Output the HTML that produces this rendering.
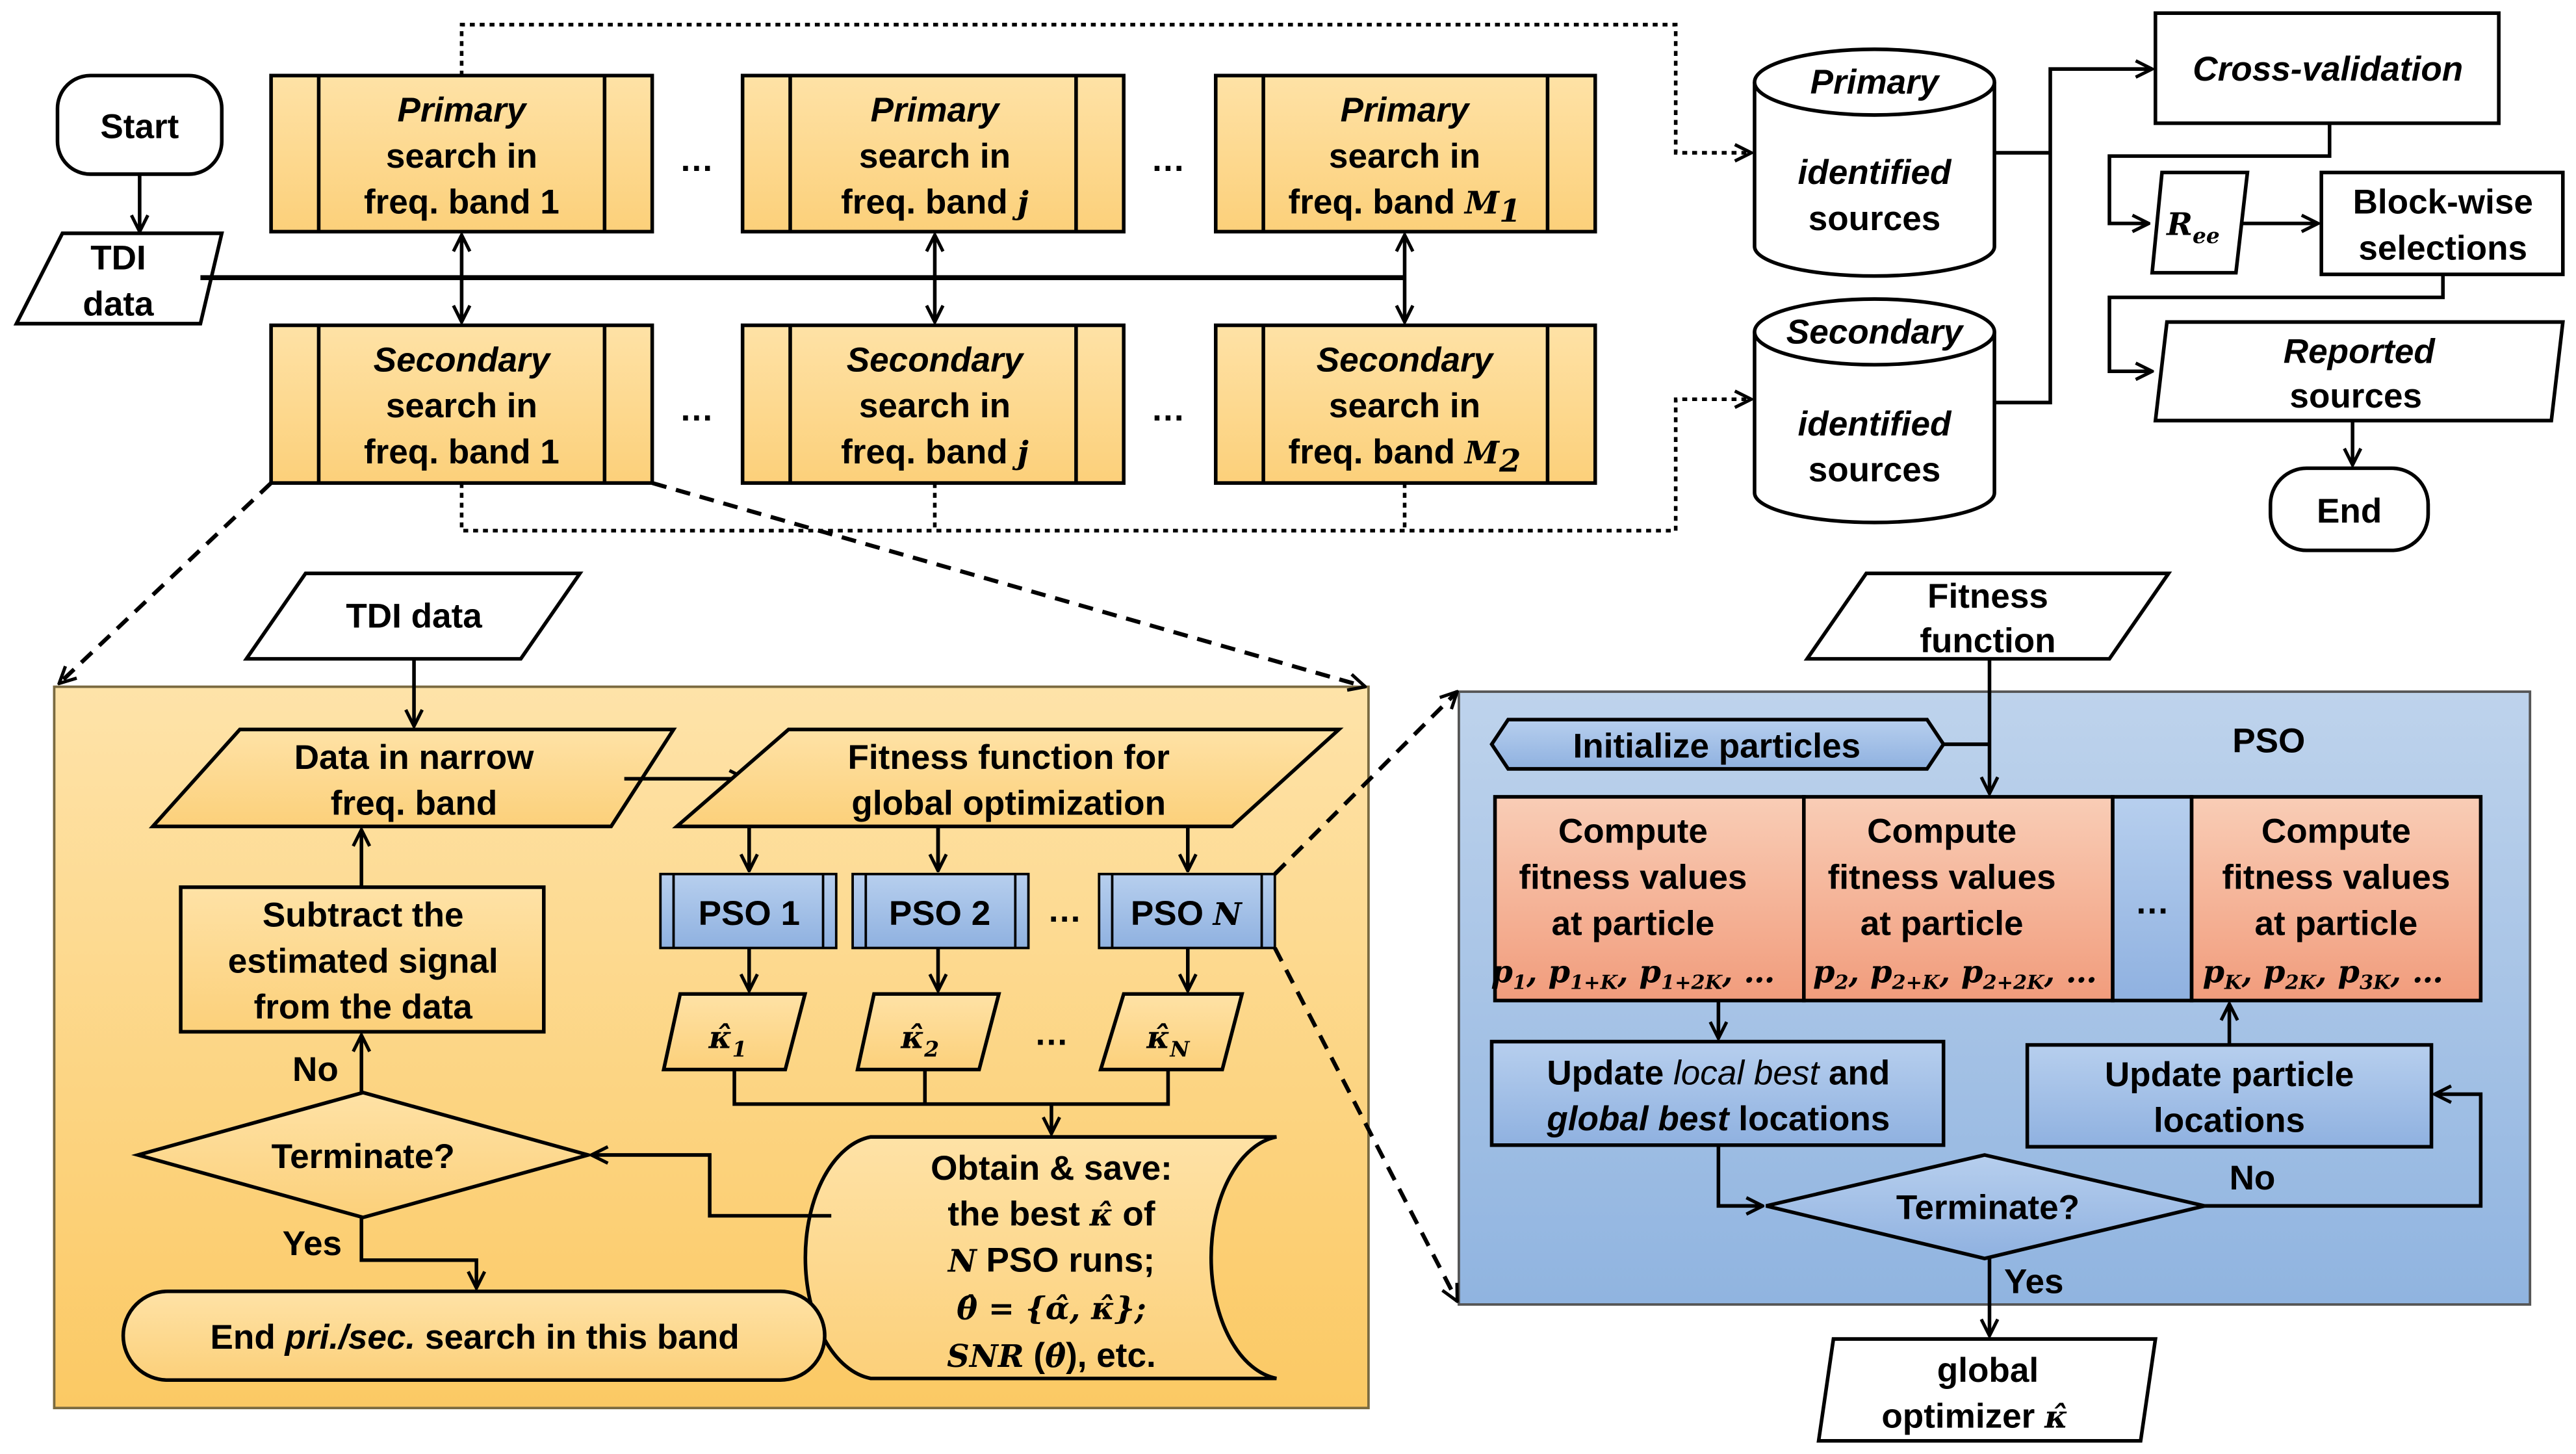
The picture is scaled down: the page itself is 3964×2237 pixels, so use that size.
<!DOCTYPE html>
<html><head><meta charset="utf-8"><style>
html,body{margin:0;padding:0;background:#fff}
svg{display:block}
text{font-family:"Liberation Sans",sans-serif;font-weight:bold;font-size:21px;fill:#000;text-anchor:middle}
.i{font-style:italic}
.m{font-family:"DejaVu Serif",serif;font-style:italic;font-weight:bold;font-size:19px}
</style></head><body>
<svg width="3964" height="2237" viewBox="0 0 1568 885" preserveAspectRatio="none" xmlns="http://www.w3.org/2000/svg">
<defs>
<linearGradient id="og" x1="0" y1="0" x2="0" y2="1"><stop offset="0" stop-color="#fee3a9"/><stop offset="1" stop-color="#fbc964"/></linearGradient>
<linearGradient id="bx" x1="0" y1="0" x2="0" y2="1"><stop offset="0" stop-color="#fee2a6"/><stop offset="1" stop-color="#fcd07a"/></linearGradient>
<linearGradient id="bl" x1="0" y1="0" x2="0" y2="1"><stop offset="0" stop-color="#bed3ec"/><stop offset="1" stop-color="#90b4e0"/></linearGradient>
<linearGradient id="sa" x1="0" y1="0" x2="0" y2="1"><stop offset="0" stop-color="#f9cdb6"/><stop offset="1" stop-color="#f19c7c"/></linearGradient>
<linearGradient id="pb" x1="0" y1="0" x2="0" y2="1"><stop offset="0" stop-color="#b7cfee"/><stop offset="1" stop-color="#8fb1e0"/></linearGradient>
<marker id="a" viewBox="0 0 12 12" refX="11" refY="6" markerWidth="12" markerHeight="12" markerUnits="userSpaceOnUse" orient="auto-start-reverse"><path d="M1,1 L11,6 L1,11" fill="none" stroke="#000" stroke-width="2"/></marker>
</defs>
<g stroke="#000" stroke-width="2.2" fill="none">
<rect x="33" y="418" width="800" height="439" fill="url(#og)" stroke="#7a6a40" stroke-width="1.5"/>
<rect x="888" y="421" width="652" height="373" fill="url(#bl)" stroke="#555" stroke-width="1.5"/>
<rect x="35" y="46" width="100" height="60" rx="20" fill="#fff"/>
<line x1="85" y1="106" x2="85" y2="141" marker-end="url(#a)"/>
<polygon points="38,142 135,142 122,197 10,197" fill="#fff"/>
<line x1="122" y1="169" x2="855" y2="169" stroke-width="3"/>
<g fill="url(#bx)">
<rect x="165" y="46" width="232" height="95"/><rect x="452" y="46" width="232" height="95"/><rect x="740" y="46" width="231" height="95"/>
<rect x="165" y="198" width="232" height="96"/><rect x="452" y="198" width="232" height="96"/><rect x="740" y="198" width="231" height="96"/>
</g>
<path d="M194,46V141M368,46V141M481,46V141M655,46V141M769,46V141M942,46V141M194,198V294M368,198V294M481,198V294M655,198V294M769,198V294M942,198V294"/>
<line x1="281" y1="143" x2="281" y2="196" marker-start="url(#a)" marker-end="url(#a)"/>
<line x1="569" y1="143" x2="569" y2="196" marker-start="url(#a)" marker-end="url(#a)"/>
<line x1="855" y1="143" x2="855" y2="196" marker-start="url(#a)" marker-end="url(#a)"/>
<path d="M281,46V15H1020V93H1066" stroke-dasharray="3,3" marker-end="url(#a)"/>
<path d="M281,294V323H1020V243H1066" stroke-dasharray="3,3" marker-end="url(#a)"/>
<path d="M569,294V323M855,294V323" stroke-dasharray="3,3"/>
<path d="M1068,50V150A73,18 0 0 0 1214,150V50" fill="#fff"/>
<ellipse cx="1141" cy="50" rx="73" ry="20" fill="#fff"/>
<path d="M1068,202V300A73,18 0 0 0 1214,300V202" fill="#fff"/>
<ellipse cx="1141" cy="202" rx="73" ry="20" fill="#fff"/>
<path d="M1214,93H1248"/>
<path d="M1214,245H1248V42H1310" marker-end="url(#a)"/>
<rect x="1312" y="8" width="209" height="67" fill="#fff"/>
<path d="M1418,75V95H1284V136H1308" marker-end="url(#a)"/>
<polygon points="1316,105 1368,105 1361,166 1310,166" fill="#fff"/>
<line x1="1365" y1="136" x2="1411" y2="136" marker-end="url(#a)"/>
<rect x="1413" y="105" width="147" height="62" fill="#fff"/>
<path d="M1487,167V181H1284V226H1310" marker-end="url(#a)"/>
<polygon points="1319,196 1560,196 1553,256 1312,256" fill="#fff"/>
<line x1="1432" y1="256" x2="1432" y2="283" marker-end="url(#a)"/>
<rect x="1382" y="285" width="96" height="50" rx="22" fill="#fff"/>
<g stroke-width="2.5" stroke-dasharray="9,6">
<line x1="165" y1="294" x2="36" y2="416" marker-end="url(#a)"/>
<line x1="397" y1="294" x2="831" y2="418" marker-end="url(#a)"/>
<line x1="776" y1="532" x2="887" y2="421" marker-end="url(#a)"/>
<line x1="776" y1="577" x2="887" y2="792" marker-end="url(#a)"/>
</g>
<polygon points="186,349 353,349 317,401 150,401" fill="#fff"/>
<line x1="252" y1="401" x2="252" y2="442" marker-end="url(#a)"/>
<polygon points="146,444 410,444 372,503 93,503" fill="url(#bx)"/>
<line x1="380" y1="474" x2="454" y2="474" marker-end="url(#a)"/>
<polygon points="480,444 815,444 750,503 412,503" fill="url(#bx)"/>
<path d="M456,503V530M571,503V530M723,503V530" marker-end="url(#a)"/>
<line x1="456" y1="503" x2="456" y2="530" marker-end="url(#a)"/>
<line x1="571" y1="503" x2="571" y2="530" marker-end="url(#a)"/>
<g fill="url(#pb)" stroke-width="1.5"><rect x="402" y="532" width="107" height="45"/><rect x="519" y="532" width="107" height="45"/><rect x="669" y="532" width="107" height="45"/></g>
<path d="M410,532V577M501,532V577M527,532V577M618,532V577M677,532V577M768,532V577" stroke-width="1.5"/>
<line x1="456" y1="577" x2="456" y2="603" marker-end="url(#a)"/>
<line x1="571" y1="577" x2="571" y2="603" marker-end="url(#a)"/>
<line x1="723" y1="577" x2="723" y2="603" marker-end="url(#a)"/>
<polygon points="414,605 490,605 478,651 404,651" fill="url(#bx)"/>
<polygon points="532,605 608,605 596,651 522,651" fill="url(#bx)"/>
<polygon points="684,605 756,605 744,651 670,651" fill="url(#bx)"/>
<path d="M447,651V672H711V651M563,651V672"/>
<line x1="640" y1="672" x2="640" y2="690" marker-end="url(#a)"/>
<path d="M530,692H777A45,74 0 0 0 777,839H530A45,74 0 0 1 530,692Z" fill="url(#bx)"/>
<path d="M506,740H432V703H360" marker-end="url(#a)"/>
<polygon points="84,703 221,665 358,703 221,741" fill="url(#bx)"/>
<line x1="220" y1="665" x2="220" y2="630" marker-end="url(#a)"/>
<rect x="110" y="540" width="221" height="88" fill="url(#bx)"/>
<line x1="220" y1="540" x2="220" y2="505" marker-end="url(#a)"/>
<path d="M220,741V767H290V784" marker-end="url(#a)"/>
<rect x="75" y="786" width="427" height="54" rx="27" fill="url(#bx)"/>
<polygon points="1136,349 1320,349 1284,401 1100,401" fill="#fff"/>
<line x1="1211" y1="401" x2="1211" y2="483" marker-end="url(#a)"/>
<polygon points="918,438 1173,438 1183,453 1173,468 918,468 908,453" fill="url(#pb)"/>
<line x1="1183" y1="453" x2="1211" y2="453"/>
<g fill="url(#sa)"><rect x="910" y="485" width="188" height="124"/><rect x="1098" y="485" width="188" height="124"/><rect x="1334" y="485" width="176" height="124"/></g>
<rect x="1286" y="485" width="48" height="124" fill="url(#pb)"/>
<line x1="1046" y1="609" x2="1046" y2="632" marker-end="url(#a)"/>
<rect x="908" y="634" width="275" height="63" fill="url(#pb)"/>
<rect x="1234" y="636" width="246" height="62" fill="url(#pb)"/>
<line x1="1357" y1="636" x2="1357" y2="611" marker-end="url(#a)"/>
<polygon points="1075,734 1208,703 1342,734 1208,766" fill="url(#pb)"/>
<path d="M1046,697V734H1073" marker-end="url(#a)"/>
<path d="M1342,734H1510V666H1482" marker-end="url(#a)"/>
<line x1="1211" y1="766" x2="1211" y2="813" marker-end="url(#a)"/>
<polygon points="1116,815 1312,815 1303,877 1107,877" fill="#fff"/>
</g>
<text x="85" y="84">Start</text>
<text x="72" y="164">TDI</text><text x="72" y="192">data</text>
<text class="i" x="281" y="74">Primary</text><text x="281" y="102">search in</text><text x="281" y="130">freq. band 1</text>
<text class="i" x="569" y="74">Primary</text><text x="569" y="102">search in</text><text x="569" y="130">freq. band <tspan class="m">j</tspan></text>
<text class="i" x="855" y="74">Primary</text><text x="855" y="102">search in</text><text x="855" y="130">freq. band <tspan class="m">M</tspan><tspan class="m" font-size="13" dy="5">1</tspan></text>
<text class="i" x="281" y="226">Secondary</text><text x="281" y="254">search in</text><text x="281" y="282">freq. band 1</text>
<text class="i" x="569" y="226">Secondary</text><text x="569" y="254">search in</text><text x="569" y="282">freq. band <tspan class="m">j</tspan></text>
<text class="i" x="855" y="226">Secondary</text><text x="855" y="254">search in</text><text x="855" y="282">freq. band <tspan class="m">M</tspan><tspan class="m" font-size="13" dy="5">2</tspan></text>
<text x="424" y="104">…</text><text x="711" y="104">…</text><text x="424" y="256">…</text><text x="711" y="256">…</text>
<text class="i" x="1141" y="57">Primary</text><text class="i" x="1141" y="112">identified</text><text x="1141" y="140">sources</text>
<text class="i" x="1141" y="209">Secondary</text><text class="i" x="1141" y="265">identified</text><text x="1141" y="293">sources</text>
<text class="i" x="1417" y="49">Cross-validation</text>
<text class="m" x="1335" y="143">R<tspan font-size="13" dy="5">ee</tspan></text>
<text x="1487" y="130">Block-wise</text><text x="1487" y="158">selections</text>
<text class="i" x="1436" y="221">Reported</text><text x="1434" y="248">sources</text>
<text x="1430" y="318">End</text>
<text x="252" y="382">TDI data</text>
<text x="252" y="468">Data in narrow</text><text x="252" y="496">freq. band</text>
<text x="614" y="468">Fitness function for</text><text x="614" y="496">global optimization</text>
<text x="456" y="563">PSO 1</text><text x="572" y="563">PSO 2</text><text x="722" y="563">PSO <tspan class="m">N</tspan></text>
<text x="648" y="561">…</text><text x="640" y="636">…</text>
<text class="m" x="443" y="638">κ̂<tspan font-size="13" dy="5">1</tspan></text>
<text class="m" x="560" y="638">κ̂<tspan font-size="13" dy="5">2</tspan></text>
<text class="m" x="711" y="638">κ̂<tspan font-size="13" dy="5">N</tspan></text>
<text x="640" y="718">Obtain &amp; save:</text>
<text x="640" y="746">the best <tspan class="m">κ̂</tspan> of</text>
<text x="640" y="774"><tspan class="m">N</tspan> PSO runs;</text>
<text class="m" x="640" y="803">θ̂ = {α̂, κ̂};</text>
<text x="640" y="832"><tspan class="m">SNR</tspan> (<tspan class="m">θ̂</tspan>), etc.</text>
<text x="221" y="711">Terminate?</text>
<text x="192" y="658">No</text>
<text x="221" y="564">Subtract the</text><text x="221" y="592">estimated signal</text><text x="221" y="620">from the data</text>
<text x="190" y="764">Yes</text>
<text x="289" y="821">End <tspan class="i">pri./sec.</tspan> search in this band</text>
<text x="1210" y="370">Fitness</text><text x="1210" y="397">function</text>
<text x="1045" y="461">Initialize particles</text>
<text x="1381" y="458">PSO</text>
<text x="994" y="513">Compute</text><text x="994" y="541">fitness values</text><text x="994" y="569">at particle</text>
<text class="m" x="994" y="598">p<tspan font-size="12" dy="4">1</tspan><tspan dy="-4">, p</tspan><tspan font-size="12" dy="4">1+K</tspan><tspan dy="-4">, p</tspan><tspan font-size="12" dy="4">1+2K</tspan><tspan dy="-4">, …</tspan></text>
<text x="1182" y="513">Compute</text><text x="1182" y="541">fitness values</text><text x="1182" y="569">at particle</text>
<text class="m" x="1190" y="598">p<tspan font-size="12" dy="4">2</tspan><tspan dy="-4">, p</tspan><tspan font-size="12" dy="4">2+K</tspan><tspan dy="-4">, p</tspan><tspan font-size="12" dy="4">2+2K</tspan><tspan dy="-4">, …</tspan></text>
<text x="1310" y="556">…</text>
<text x="1422" y="513">Compute</text><text x="1422" y="541">fitness values</text><text x="1422" y="569">at particle</text>
<text class="m" x="1414" y="598">p<tspan font-size="12" dy="4">K</tspan><tspan dy="-4">, p</tspan><tspan font-size="12" dy="4">2K</tspan><tspan dy="-4">, p</tspan><tspan font-size="12" dy="4">3K</tspan><tspan dy="-4">, …</tspan></text>
<text x="1046" y="660">Update <tspan class="i" font-weight="normal">local best</tspan> and</text>
<text x="1046" y="688"><tspan class="i">global best</tspan> locations</text>
<text x="1357" y="661">Update particle</text><text x="1357" y="689">locations</text>
<text x="1210" y="742">Terminate?</text>
<text x="1371" y="724">No</text>
<text x="1238" y="787">Yes</text>
<text x="1210" y="841">global</text><text x="1202" y="869">optimizer <tspan class="m">κ̂</tspan></text>
</svg>
</body></html>
